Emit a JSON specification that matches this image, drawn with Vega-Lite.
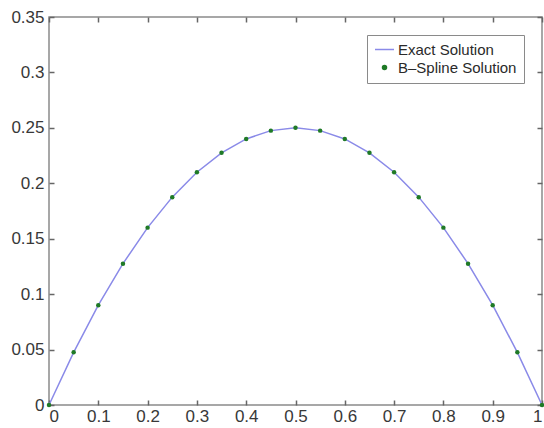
{
  "$schema": "https://vega.github.io/schema/vega-lite/v6.json",
  "autosize": "none",
  "width": 493,
  "height": 388,
  "padding": {"left": 49, "top": 17, "right": 2, "bottom": 23},
  "background": "white",
  "config": {
    "view": {"stroke": "#8a8a8a", "strokeWidth": 1.5},
    "font": "Liberation Sans",
    "axis": {
      "grid": false,
      "domain": false,
      "ticks": true,
      "offset": -5,
      "tickColor": "#666666",
      "tickWidth": 1.5,
      "tickSize": 5,
      "labelFont": "Liberation Sans",
      "labelFontSize": 17,
      "labelColor": "#383838",
      "title": null
    }
  },
  "resolve": {"axis": {"x": "independent", "y": "independent"}},
  "datasets": {
    "exact": [
      {"x": 0, "y": 0, "series": "Exact Solution"},
      {"x": 0.05, "y": 0.0475, "series": "Exact Solution"},
      {"x": 0.1, "y": 0.09, "series": "Exact Solution"},
      {"x": 0.15, "y": 0.1275, "series": "Exact Solution"},
      {"x": 0.2, "y": 0.16, "series": "Exact Solution"},
      {"x": 0.25, "y": 0.1875, "series": "Exact Solution"},
      {"x": 0.3, "y": 0.21, "series": "Exact Solution"},
      {"x": 0.35, "y": 0.2275, "series": "Exact Solution"},
      {"x": 0.4, "y": 0.24, "series": "Exact Solution"},
      {"x": 0.45, "y": 0.2475, "series": "Exact Solution"},
      {"x": 0.5, "y": 0.25, "series": "Exact Solution"},
      {"x": 0.55, "y": 0.2475, "series": "Exact Solution"},
      {"x": 0.6, "y": 0.24, "series": "Exact Solution"},
      {"x": 0.65, "y": 0.2275, "series": "Exact Solution"},
      {"x": 0.7, "y": 0.21, "series": "Exact Solution"},
      {"x": 0.75, "y": 0.1875, "series": "Exact Solution"},
      {"x": 0.8, "y": 0.16, "series": "Exact Solution"},
      {"x": 0.85, "y": 0.1275, "series": "Exact Solution"},
      {"x": 0.9, "y": 0.09, "series": "Exact Solution"},
      {"x": 0.95, "y": 0.0475, "series": "Exact Solution"},
      {"x": 1, "y": 0, "series": "Exact Solution"}
    ],
    "bspline": [
      {"x": 0, "y": 0, "series": "B\u2013Spline Solution"},
      {"x": 0.05, "y": 0.0475, "series": "B\u2013Spline Solution"},
      {"x": 0.1, "y": 0.09, "series": "B\u2013Spline Solution"},
      {"x": 0.15, "y": 0.1275, "series": "B\u2013Spline Solution"},
      {"x": 0.2, "y": 0.16, "series": "B\u2013Spline Solution"},
      {"x": 0.25, "y": 0.1875, "series": "B\u2013Spline Solution"},
      {"x": 0.3, "y": 0.21, "series": "B\u2013Spline Solution"},
      {"x": 0.35, "y": 0.2275, "series": "B\u2013Spline Solution"},
      {"x": 0.4, "y": 0.24, "series": "B\u2013Spline Solution"},
      {"x": 0.45, "y": 0.2475, "series": "B\u2013Spline Solution"},
      {"x": 0.5, "y": 0.25, "series": "B\u2013Spline Solution"},
      {"x": 0.55, "y": 0.2475, "series": "B\u2013Spline Solution"},
      {"x": 0.6, "y": 0.24, "series": "B\u2013Spline Solution"},
      {"x": 0.65, "y": 0.2275, "series": "B\u2013Spline Solution"},
      {"x": 0.7, "y": 0.21, "series": "B\u2013Spline Solution"},
      {"x": 0.75, "y": 0.1875, "series": "B\u2013Spline Solution"},
      {"x": 0.8, "y": 0.16, "series": "B\u2013Spline Solution"},
      {"x": 0.85, "y": 0.1275, "series": "B\u2013Spline Solution"},
      {"x": 0.9, "y": 0.09, "series": "B\u2013Spline Solution"},
      {"x": 0.95, "y": 0.0475, "series": "B\u2013Spline Solution"},
      {"x": 1, "y": 0, "series": "B\u2013Spline Solution"}
    ]
  },
  "layer": [
    {
      "data": {"name": "exact"},
      "mark": {"type": "line", "strokeWidth": 1.5},
      "encoding": {
        "x": {
          "field": "x", "type": "quantitative",
          "scale": {"domain": [0, 1], "nice": false},
          "axis": {"orient": "bottom", "ticks": true, "tickSize": 5, "tickColor": "#666666", "values": [0, 0.1, 0.2, 0.3, 0.4, 0.5, 0.6, 0.7, 0.8, 0.9, 1], "format": "~g", "labelPadding": 3}
        },
        "y": {
          "field": "y", "type": "quantitative",
          "scale": {"domain": [0, 0.35], "nice": false},
          "axis": {"orient": "left", "ticks": true, "tickSize": 5, "tickColor": "#666666", "values": [0, 0.05, 0.1, 0.15, 0.2, 0.25, 0.3, 0.35], "format": "~g", "labelPadding": 5}
        },
        "color": {
          "field": "series", "type": "nominal",
          "scale": {"domain": ["Exact Solution", "B\u2013Spline Solution"], "range": ["#8a8ae8", "#1f7a26"]},
          "legend": {
            "title": null,
            "orient": "none",
            "legendX": 318,
            "legendY": 18,
            "strokeColor": "#8a8a8a",
            "fillColor": "white",
            "padding": 7,
            "labelFont": "Liberation Sans",
            "labelFontSize": 15,
            "labelColor": "#2a2a2a",
            "labelOffset": 6,
            "symbolOffset": 3,
            "rowPadding": 2,
            "symbolStrokeWidth": 1.5,
            "encode": {
              "symbols": {
                "update": {
                  "shape": {"signal": "datum.value === 'Exact Solution' ? 'stroke' : 'circle'"},
                  "size": {"signal": "datum.value === 'Exact Solution' ? 360 : 16"},
                  "fill": {"signal": "datum.value === 'Exact Solution' ? 'transparent' : '#1f7a26'"},
                  "stroke": {"signal": "datum.value === 'Exact Solution' ? '#8a8ae8' : '#1f7a26'"}
                }
              }
            }
          }
        }
      }
    },
    {
      "data": {"name": "bspline"},
      "mark": {"type": "point", "filled": true, "size": 20, "opacity": 1},
      "encoding": {
        "x": {
          "field": "x", "type": "quantitative",
          "axis": {"orient": "top", "ticks": true, "tickSize": 5, "tickColor": "#666666", "values": [0, 0.1, 0.2, 0.3, 0.4, 0.5, 0.6, 0.7, 0.8, 0.9, 1], "labels": false}
        },
        "y": {
          "field": "y", "type": "quantitative",
          "axis": {"orient": "right", "ticks": true, "tickSize": 5, "tickColor": "#666666", "values": [0, 0.05, 0.1, 0.15, 0.2, 0.25, 0.3, 0.35], "labels": false}
        },
        "color": {"field": "series", "type": "nominal"}
      }
    }
  ]
}
